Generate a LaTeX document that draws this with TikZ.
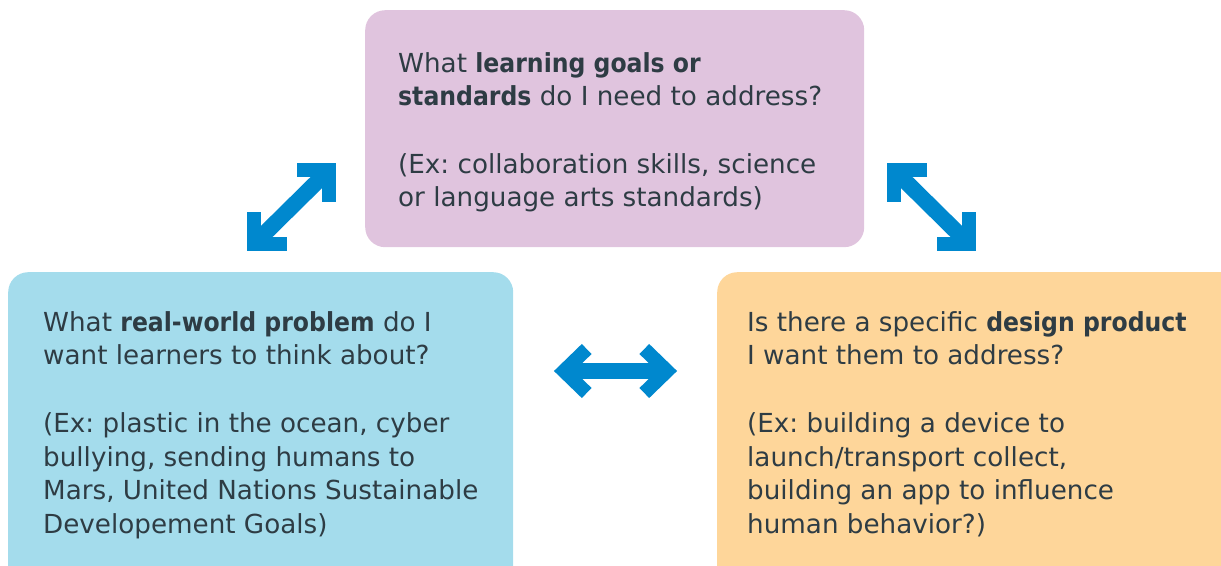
\documentclass[tikz,border=0pt]{standalone}
\usepackage{fontspec}
\setmainfont{DejaVu Sans}[BoldFont={DejaVu Sans Condensed Bold}]
\usetikzlibrary{calc}
\frenchspacing
\definecolor{boxpink}{RGB}{224,196,222}
\definecolor{boxblue}{RGB}{164,220,236}
\definecolor{boxorange}{RGB}{254,214,154}
\definecolor{arrowblue}{RGB}{0,136,206}
\definecolor{inktext}{RGB}{46,60,68}
\begin{document}
\begin{tikzpicture}[x=1pt,y=-1pt,
  card/.style={draw=none, rounded corners=20pt, inner sep=0pt, anchor=north west},
  question/.style={anchor=base west, inner sep=0pt, align=left, text=inktext,
    font=\fontsize{26.2}{33.4}\selectfont},
  shaft/.style={draw=arrowblue, line width=16pt, line cap=butt},
  barb/.style={draw=arrowblue, line width=14pt, line cap=butt, line join=miter, miter limit=4}]
\useasboundingbox (0,0) rectangle (1221,565);
\clip (0,0) rectangle (1221,565);

% the three question cards
\node[card, fill=boxpink, minimum width=499pt, minimum height=237pt] (goals) at (365,10) {};
\node[card, fill=boxblue, minimum width=505pt, minimum height=320pt] (problem) at (8,272) {};
\node[card, fill=boxorange, minimum width=540pt, minimum height=320pt] (product) at (717,272) {};

% texts are placed by the baseline of their last line
\node[question] (goalstext) at ($(goals.north west)+(33,196.5)$)
  {What \textbf{learning goals or}\\
   \textbf{standards} do I need to address?\\[34pt]
   (Ex: collaboration skills, science\\
   or language arts standards)};
\node[question] (problemtext) at ($(problem.north west)+(35,261)$)
  {What \textbf{real-world problem} do I\\
   want learners to think about?\\[35pt]
   (Ex: plastic in the ocean, cyber\\
   bullying, sending humans to\\
   Mars, United Nations Sustainable\\
   Developement Goals)};
\node[question] (producttext) at ($(product.north west)+(30,261)$)
  {Is there a specific \textbf{design product}\\
   I want them to address?\\[35pt]
   (Ex: building a device to\\
   launch/transport collect,\\
   building an app to influence\\
   human behavior?)};

% arrow between problem and goals
\coordinate (pgA) at (254,244);
\coordinate (pgB) at (329,170);
\draw[shaft] (pgA) -- (pgB);
\draw[barb] ($(pgB)+(-32,0)$) -- (pgB) -- ($(pgB)+(0,32)$);
\draw[barb] ($(pgA)+(0,-32)$) -- (pgA) -- ($(pgA)+(33,0)$);

% arrow between goals and product
\coordinate (gpA) at (894,170);
\coordinate (gpB) at (969,244);
\draw[shaft] (gpA) -- (gpB);
\draw[barb] ($(gpA)+(33,0)$) -- (gpA) -- ($(gpA)+(0,32)$);
\draw[barb] ($(gpB)+(0,-32)$) -- (gpB) -- ($(gpB)+(-32,0)$);

% arrow between problem and product
\coordinate (ppA) at (564,371);
\coordinate (ppB) at (667,371);
\draw[shaft] (ppA) -- (ppB);
\draw[barb] ($(ppA)+(22.7,-22)$) -- (ppA) -- ($(ppA)+(22.7,22)$);
\draw[barb] ($(ppB)+(-22.7,-22)$) -- (ppB) -- ($(ppB)+(-22.7,22)$);
\end{tikzpicture}
\end{document}
